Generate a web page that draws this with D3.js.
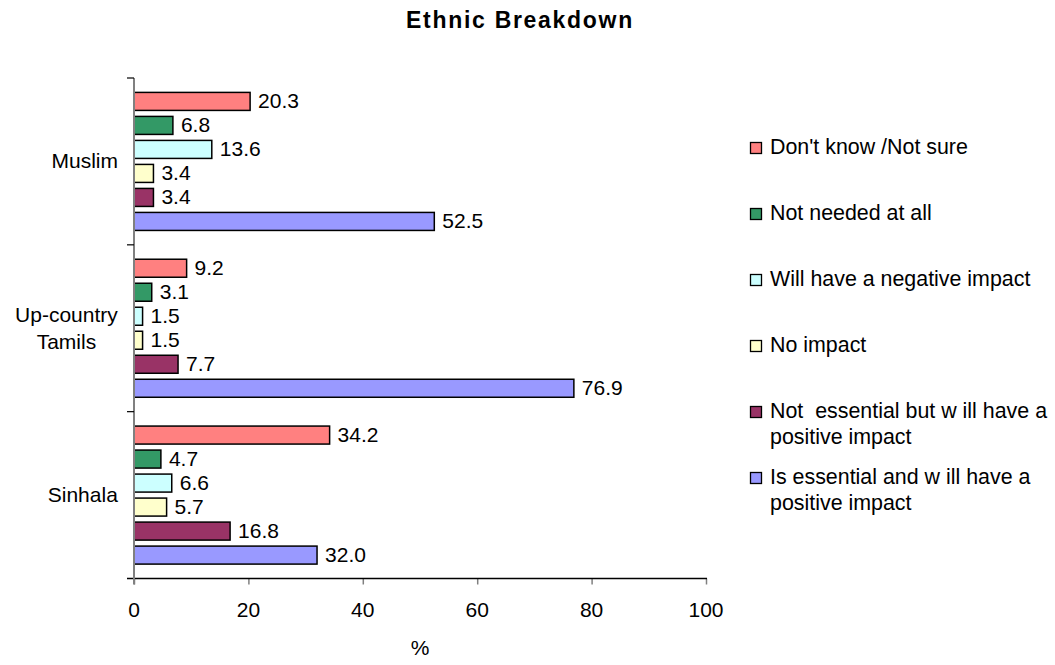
<!DOCTYPE html>
<html>
<head>
<meta charset="utf-8">
<script src="https://cdn.jsdelivr.net/npm/d3@7"></script>
<style>
  body { margin: 0; background: #fff; }
  svg text { font-family: "Liberation Sans", Arial, sans-serif; fill: #000; white-space: pre; }
</style>
</head>
<body>
<svg id="chart" width="1055" height="665"></svg>
<script>
// ---- data ----
const categories = ["Muslim", "Up-country Tamils", "Sinhala"];
const categoryLines = [["Muslim"], ["Up-country", "Tamils"], ["Sinhala"]];
const seriesNames = [
  "Don't know /Not sure",
  "Not needed at all",
  "Will have a negative impact",
  "No impact",
  "Not  essential but w ill have a positive impact",
  "Is essential and w ill have a positive impact"
];
const legendLines = [
  ["Don't know /Not sure"],
  ["Not needed at all"],
  ["Will have a negative impact"],
  ["No impact"],
  ["Not  essential but w ill have a", "positive impact"],
  ["Is essential and w ill have a", "positive impact"]
];
const seriesColors = ["#FF8080", "#339966", "#CCFFFF", "#FFFFCC", "#993366", "#9999FF"];
// values per series, in category order Muslim, Up-country Tamils, Sinhala
const dontKnow     = [20.3, 9.2, 34.2];
const notNeeded    = [6.8, 3.1, 4.7];
const negative     = [13.6, 1.5, 6.6];
const noImpact     = [3.4, 1.5, 5.7];
const notEssential = [3.4, 7.7, 16.8];
const isEssential  = [52.5, 76.9, 32.0];
const seriesValues = [dontKnow, notNeeded, negative, noImpact, notEssential, isEssential];
const xTicks = [0, 20, 40, 60, 80, 100];
const titleText = "Ethnic Breakdown";
const xAxisTitle = "%";

// ---- layout ----
const svg = d3.select("#chart");
const plot = { left: 134, right: 706, top: 78, bottom: 578.5 };
const fs = "21px";

const x = d3.scaleLinear().domain([0, 100]).range([plot.left, plot.right]);
const y0 = d3.scaleBand().domain(categories).range([plot.top, plot.bottom]).padding(0);
const y1 = d3.scaleBand().domain(d3.range(seriesNames.length))
  .range([0, y0.bandwidth()]).paddingInner(0.25).paddingOuter(0.6);

// title
svg.append("text")
  .attr("x", 520).attr("y", 28)
  .attr("text-anchor", "middle")
  .style("font-size", "23px").style("font-weight", "bold").style("letter-spacing", "1.7px")
  .text(titleText);

// bars
const groups = svg.append("g").selectAll("g")
  .data(categories)
  .join("g")
  .attr("transform", d => `translate(0,${y0(d)})`);

groups.each(function(cat, ci) {
  const g = d3.select(this);
  seriesValues.forEach((vals, si) => {
    const v = vals[ci];
    g.append("rect")
      .attr("x", x(0))
      .attr("y", y1(si))
      .attr("width", x(v) - x(0))
      .attr("height", y1.bandwidth())
      .attr("fill", seriesColors[si])
      .attr("stroke", "#000")
      .attr("stroke-width", 1.5);
    g.append("text")
      .attr("x", x(v) + 8)
      .attr("y", y1(si) + y1.bandwidth() / 2 + 6.5)
      .style("font-size", fs)
      .text(v.toFixed(1));
  });
});

// x axis
const xAxis = svg.append("g")
  .attr("transform", `translate(0,${plot.bottom})`)
  .call(d3.axisBottom(x).tickValues(xTicks).tickSize(6).tickPadding(0).tickFormat(d3.format("d")));
xAxis.select(".domain").remove();
xAxis.selectAll(".tick line").attr("stroke", "#808080").attr("stroke-width", 1.5);
xAxis.selectAll(".tick text").remove();
svg.append("line")
  .attr("x1", plot.left - 7).attr("x2", plot.right + 1)
  .attr("y1", plot.bottom).attr("y2", plot.bottom)
  .attr("stroke", "#000").attr("stroke-width", 1.5);
svg.append("g").selectAll("text")
  .data(xTicks)
  .join("text")
  .attr("x", d => x(d)).attr("y", 617)
  .attr("text-anchor", "middle")
  .style("font-size", fs)
  .text(d => d);

// y axis
const yBounds = [plot.top].concat(categories.map(c => y0(c) + y0.bandwidth()));
svg.append("line")
  .attr("x1", plot.left).attr("x2", plot.left)
  .attr("y1", plot.top).attr("y2", plot.bottom + 6)
  .attr("stroke", "#808080").attr("stroke-width", 2);
svg.append("g").selectAll("line")
  .data(yBounds.slice(0, 3))
  .join("line")
  .attr("x1", plot.left - 7).attr("x2", plot.left)
  .attr("y1", d => d).attr("y2", d => d)
  .attr("stroke", "#000").attr("stroke-width", 1.2);

// category labels
categoryLines.forEach((lines, ci) => {
  const cy = y0(categories[ci]) + y0.bandwidth() / 2;
  const lh = 27;
  const t = svg.append("text")
    .attr("text-anchor", "middle")
    .style("font-size", fs);
  lines.forEach((l, li) => {
    t.append("tspan")
      .attr("x", 0)
      .attr("y", cy + 7 + (li - (lines.length - 1) / 2) * lh)
      .text(l);
  });
  // right-align the block at x=118
  const bb = t.node().getBBox();
  t.selectAll("tspan").attr("x", 118 - bb.width / 2);
});

// x axis title
svg.append("text")
  .attr("x", (plot.left + plot.right) / 2).attr("y", 655)
  .attr("text-anchor", "middle")
  .style("font-size", fs)
  .text(xAxisTitle);

// legend
const legendTop = 154, legendStep = 66;
legendLines.forEach((lines, si) => {
  const by = legendTop + si * legendStep;
  svg.append("rect")
    .attr("x", 750.5).attr("y", by - 11.5)
    .attr("width", 11).attr("height", 11)
    .attr("fill", seriesColors[si])
    .attr("stroke", "#000").attr("stroke-width", 1.3);
  const t = svg.append("text").style("font-size", "21.4px");
  lines.forEach((l, li) => {
    t.append("tspan").attr("x", 770).attr("y", by + li * 26).text(l);
  });
});
</script>
</body>
</html>
